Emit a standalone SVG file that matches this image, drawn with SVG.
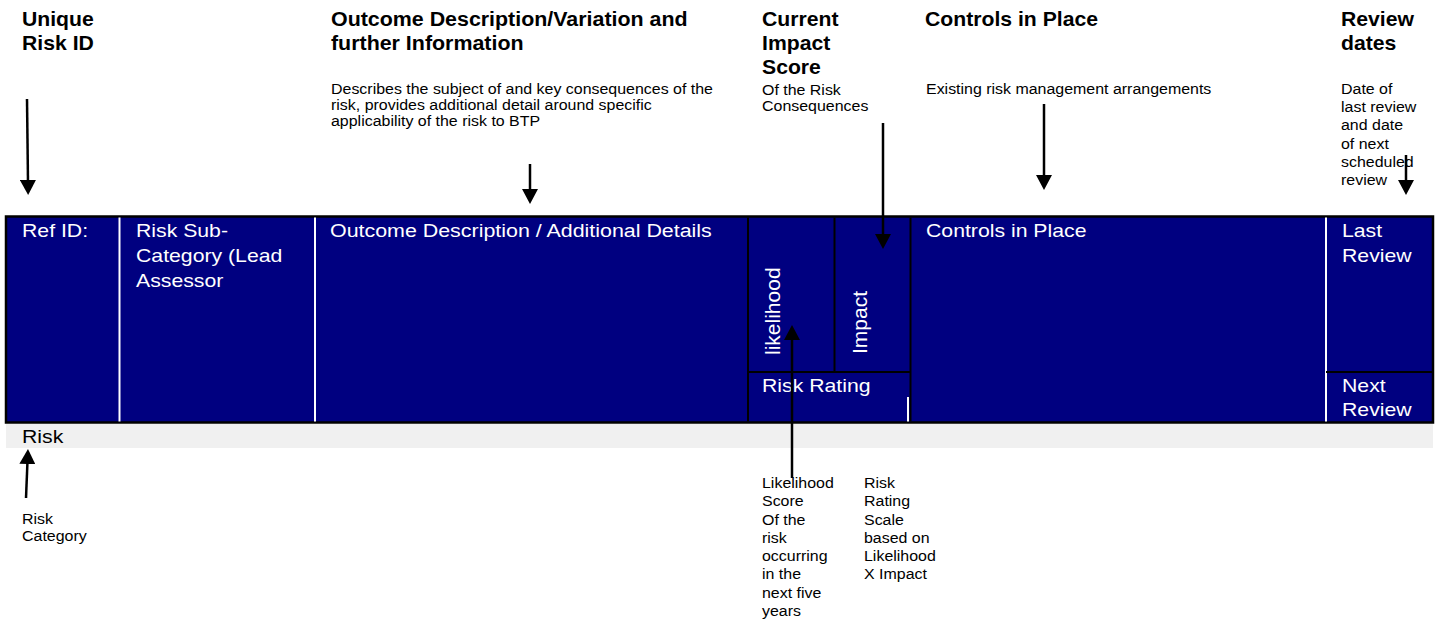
<svg xmlns="http://www.w3.org/2000/svg" width="1439" height="623" viewBox="0 0 1439 623">
<style>
text{font-family:"Liberation Sans",Arial,Helvetica,sans-serif;}
.h{font-weight:bold;font-size:20px;fill:#000;}
.s{font-size:14.5px;fill:#000;}
.t{font-size:18px;fill:#fff;}
.r{font-size:21px;fill:#fff;}
.k{font-size:18px;fill:#000;}
.wl{stroke:#fff;stroke-width:2;}
.bl{stroke:#000;stroke-width:2;}
.arr{stroke:#000;stroke-width:2.5;fill:none;marker-end:url(#ah);}
</style>
<defs>
<marker id="ah" markerUnits="userSpaceOnUse" markerWidth="16" markerHeight="16" refX="3" refY="8" orient="auto">
<path d="M0,0 L15,8 L0,16 z" fill="#000"/>
</marker>
</defs>
<rect width="1439" height="623" fill="#fff"/>

<g id="table">
<rect x="6" y="424" width="1427" height="24" fill="#f0f0f0"/>
<rect x="6" y="216.5" width="1427" height="206" fill="#000080" stroke="#000" stroke-width="2.5"/>
<line class="wl" x1="119.5" y1="217.5" x2="119.5" y2="421.5"/>
<line class="wl" x1="315" y1="217.5" x2="315" y2="421.5"/>
<line class="bl" x1="748" y1="217.5" x2="748" y2="421.5"/>
<line class="bl" x1="834.5" y1="217.5" x2="834.5" y2="372"/>
<line class="bl" x1="910.5" y1="217.5" x2="910.5" y2="421.5"/>
<line class="bl" x1="748" y1="372" x2="910.5" y2="372"/>
<line class="wl" x1="908" y1="397" x2="908" y2="421.5"/>
<line class="wl" x1="1326" y1="217.5" x2="1326" y2="421.5"/>
<line class="bl" x1="1326" y1="372" x2="1433" y2="372"/>
</g>

<g id="cell-refid"><text class="t" transform="translate(22,237) scale(1.18,1)">Ref ID:</text></g>
<g id="cell-subcat"><text class="t" transform="translate(136,237) scale(1.18,1)"><tspan x="0" y="0">Risk Sub-</tspan><tspan x="0" y="25">Category (Lead</tspan><tspan x="0" y="50">Assessor</tspan></text></g>
<g id="cell-outcome"><text class="t" transform="translate(330,237) scale(1.19,1)">Outcome Description / Additional Details</text></g>
<g id="cell-likelihood"><text class="r" transform="translate(780,355) rotate(-90)">likelihood</text></g>
<g id="cell-impact"><text class="r" transform="translate(867,354) rotate(-90)">Impact</text></g>
<g id="cell-riskrating"><text class="t" transform="translate(762,392) scale(1.18,1)">Risk Rating</text></g>
<g id="cell-controls"><text class="t" transform="translate(926,237) scale(1.18,1)">Controls in Place</text></g>
<g id="cell-last"><text class="t" transform="translate(1342,237) scale(1.18,1)"><tspan x="0" y="0">Last</tspan><tspan x="0" y="25">Review</tspan></text></g>
<g id="cell-next"><text class="t" transform="translate(1342,392) scale(1.18,1)"><tspan x="0" y="0">Next</tspan><tspan x="0" y="24">Review</tspan></text></g>
<g id="cell-risk"><text class="k" transform="translate(22,443) scale(1.18,1)">Risk</text></g>

<g id="label-unique"><text class="h" transform="translate(22,26) scale(1.06,1)"><tspan x="0" y="0">Unique</tspan><tspan x="0" y="24">Risk ID</tspan></text></g>
<g id="label-outcome">
<text class="h" transform="translate(331,26) scale(1.07,1)"><tspan x="0" y="0">Outcome Description/Variation and</tspan><tspan x="0" y="24">further Information</tspan></text>
<text class="s" transform="translate(331,94) scale(1.1,1)"><tspan x="0" y="0">Describes the subject of and key consequences of the</tspan><tspan x="0" y="16">risk, provides additional detail around specific</tspan><tspan x="0" y="32">applicability of the risk to BTP</tspan></text>
</g>
<g id="label-current">
<text class="h" transform="translate(762,26) scale(1.06,1)"><tspan x="0" y="0">Current</tspan><tspan x="0" y="24">Impact</tspan><tspan x="0" y="48">Score</tspan></text>
<text class="s" transform="translate(762,95) scale(1.1,1)"><tspan x="0" y="0">Of the Risk</tspan><tspan x="0" y="16">Consequences</tspan></text>
</g>
<g id="label-controls">
<text class="h" transform="translate(925,26) scale(1.06,1)">Controls in Place</text>
<text class="s" transform="translate(926,94) scale(1.1,1)">Existing risk management arrangements</text>
</g>
<g id="label-review">
<text class="h" transform="translate(1341,26) scale(1.06,1)"><tspan x="0" y="0">Review</tspan><tspan x="0" y="24">dates</tspan></text>
<text class="s" transform="translate(1341,94) scale(1.1,1)"><tspan x="0" y="0">Date of</tspan><tspan x="0" y="18.2">last review</tspan><tspan x="0" y="36.4">and date</tspan><tspan x="0" y="54.6">of next</tspan><tspan x="0" y="72.8">scheduled</tspan><tspan x="0" y="91">review</tspan></text>
</g>
<g id="label-category"><text class="s" transform="translate(22,524) scale(1.1,1)"><tspan x="0" y="0">Risk</tspan><tspan x="0" y="17">Category</tspan></text></g>
<g id="label-likelihood"><text class="s" transform="translate(762,488) scale(1.1,1)"><tspan x="0" y="0">Likelihood</tspan><tspan x="0" y="18.3">Score</tspan><tspan x="0" y="36.6">Of the</tspan><tspan x="0" y="54.9">risk</tspan><tspan x="0" y="73.2">occurring</tspan><tspan x="0" y="91.5">in the</tspan><tspan x="0" y="109.8">next five</tspan><tspan x="0" y="128.1">years</tspan></text></g>
<g id="label-rating"><text class="s" transform="translate(864,488) scale(1.1,1)"><tspan x="0" y="0">Risk</tspan><tspan x="0" y="18.3">Rating</tspan><tspan x="0" y="36.6">Scale</tspan><tspan x="0" y="54.9">based on</tspan><tspan x="0" y="73.2">Likelihood</tspan><tspan x="0" y="91.5">X Impact</tspan></text></g>

<g id="connectors">
<line class="arr" x1="27" y1="99" x2="28" y2="183"/>
<line class="arr" x1="26" y1="498" x2="27.5" y2="461"/>
<line class="arr" x1="530" y1="164" x2="530" y2="192"/>
<line class="arr" x1="883" y1="123" x2="883" y2="237"/>
<line class="arr" x1="1044" y1="104" x2="1044" y2="178"/>
<line class="arr" x1="1406" y1="155" x2="1406" y2="183"/>
<line class="arr" x1="792" y1="478" x2="792" y2="337"/>
</g>
</svg>
